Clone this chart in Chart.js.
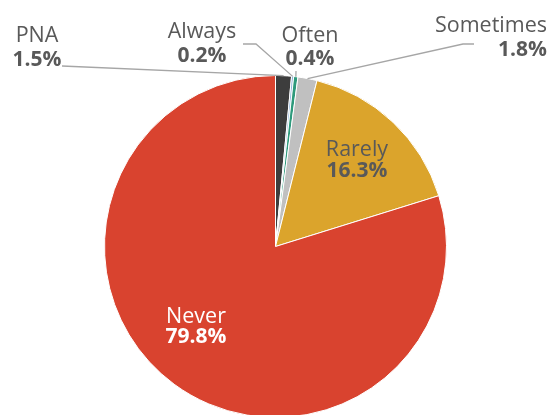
<!DOCTYPE html>
<html>
<head>
<meta charset="utf-8">
<script src="https://cdn.jsdelivr.net/npm/chart.js@4/dist/chart.umd.min.js"></script>
<style>
  html, body { margin: 0; padding: 0; background: #fff; overflow: hidden; }
  #wrap { width: 549px; height: 415px; overflow: hidden; }
</style>
</head>
<body>
<div id="wrap"><canvas id="pieChart" width="549" height="422"></canvas></div>
<script>
// Datos del gráfico (porcentajes)
const categories = ['PNA', 'Always', 'Often', 'Sometimes', 'Rarely', 'Never'];
const shares = [1.5, 0.2, 0.4, 1.8, 16.3, 79.8];
const sliceColors = ['#3d3d3d', '#8fb3dc', '#2e9a7c', '#c0c0c0', '#dba42c', '#d9432f'];

const FONT = '"Open Sans", sans-serif';
const GREY = '#595959';

// Posición de las etiquetas (estilo, no datos): base de la línea 1 y 2
const labelSpots = [
  { x: 37,  y1: 42,  y2: 66,  align: 'center', line: [[62, 66]] },
  { x: 202, y1: 38,  y2: 62,  align: 'center', line: [[243, 44], [256, 44]] },
  { x: 310, y1: 42,  y2: 65,  align: 'center', line: [[296, 71]] },
  { x: 547, y1: 32,  y2: 56,  align: 'right',  line: [[474, 44], [463, 44]] },
  { x: 357, y1: 156, y2: 177, align: 'center', inside: true },
  { x: 196, y1: 323, y2: 343, align: 'center', inside: true, white: true }
];

const labelPlugin = {
  id: 'pieLabels',
  afterDatasetsDraw(chart) {
    const ctx = chart.ctx;
    const meta = chart.getDatasetMeta(0);
    ctx.save();
    meta.data.forEach((arc, i) => {
      const spot = labelSpots[i];
      if (!spot.inside) {
        // punto del borde del sector
        const mid = (arc.startAngle + arc.endAngle) / 2;
        const ex = arc.x + arc.outerRadius * Math.cos(mid);
        const ey = arc.y + arc.outerRadius * Math.sin(mid);
        ctx.beginPath();
        ctx.strokeStyle = '#a6a6a6';
        ctx.lineWidth = 1.3;
        ctx.moveTo(spot.line[0][0], spot.line[0][1]);
        for (let k = 1; k < spot.line.length; k++) ctx.lineTo(spot.line[k][0], spot.line[k][1]);
        ctx.lineTo(ex, ey);
        ctx.stroke();
      }
      ctx.fillStyle = spot.white ? '#ffffff' : GREY;
      ctx.textAlign = spot.align;
      ctx.textBaseline = 'alphabetic';
      ctx.font = '400 21.5px ' + FONT;
      ctx.fillText(categories[i], spot.x, spot.y1);
      ctx.font = '700 21px ' + FONT;
      ctx.fillText(shares[i].toFixed(1) + '%', spot.x, spot.y2);
    });
    ctx.restore();
  }
};

new Chart(document.getElementById('pieChart').getContext('2d'), {
  type: 'pie',
  data: {
    labels: categories,
    datasets: [{
      data: shares,
      backgroundColor: sliceColors,
      borderColor: '#ffffff',
      borderWidth: 1
    }]
  },
  options: {
    responsive: false,
    animation: false,
    layout: { padding: { left: 104, right: 102, top: 75, bottom: 4 } },
    plugins: {
      legend: { display: false },
      tooltip: { enabled: false }
    }
  },
  plugins: [labelPlugin]
});
</script>
</body>
</html>
